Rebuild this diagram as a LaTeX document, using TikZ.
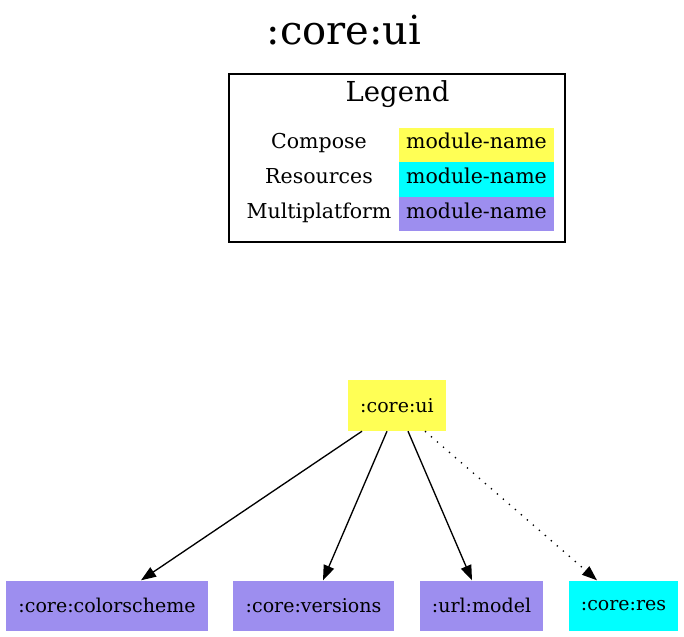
\documentclass[tikz,border=0pt]{standalone}
\usepackage{fontspec}
\setmainfont{DejaVu Serif}
\usetikzlibrary{arrows.meta}
\definecolor{compose}{RGB}{255,255,85}
\definecolor{resources}{RGB}{0,255,255}
\definecolor{mpp}{RGB}{157,142,239}
\begin{document}
\begin{tikzpicture}[x=1pt,y=-1pt,
  modbox/.style={draw=none,inner sep=0pt,font=\fontsize{19}{22}\selectfont},
  legtext/.style={inner sep=0pt,anchor=base,font=\fontsize{20.5}{24}\selectfont},
  dep/.style={line width=1.33pt,-{Triangle[length=15pt,width=11pt]}},
  depdot/.style={dep,dash pattern=on 1.33pt off 6.6pt}]
\useasboundingbox (0,0) rectangle (684,636);
% title
\node[inner sep=0pt,anchor=base,font=\fontsize{40}{46}\selectfont] (title) at (344,45) {:core:ui};
% legend
\draw[line width=1.33pt] (229,74) rectangle (565,242);
\node[inner sep=0pt,anchor=base,font=\fontsize{27.5}{32}\selectfont] (legtitle) at (397.5,102) {Legend};
\fill[compose] (399,128) rectangle (554,162);
\fill[resources] (399,162) rectangle (554,197);
\fill[mpp] (399,197) rectangle (554,231);
\node[legtext] (l1) at (319,149) {Compose};
\node[legtext] (l2) at (319,184) {Resources};
\node[legtext] (l3) at (319,218.5) {Multiplatform};
\node[legtext] (m1) at (476.5,149) {module-name};
\node[legtext] (m2) at (476.5,184) {module-name};
\node[legtext] (m3) at (476.5,218.5) {module-name};
% modules
\node[modbox,fill=compose,minimum width=98pt,minimum height=51pt] (ui) at (397,405.5) {:core:ui};
\node[modbox,fill=mpp,minimum width=202pt,minimum height=50pt] (cs) at (107,605.5) {:core:colorscheme};
\node[modbox,fill=mpp,minimum width=161pt,minimum height=50pt] (ver) at (313.5,605.5) {:core:versions};
\node[modbox,fill=mpp,minimum width=123pt,minimum height=50pt] (url) at (481.5,605.5) {:url:model};
\node[modbox,fill=resources,minimum width=109pt,minimum height=50pt] (res) at (623.5,605.5) {:core:res};
% edges
\draw[dep] ([xshift=-35pt]ui.south) -- ([xshift=34pt]cs.north);
\draw[dep] ([xshift=-10pt]ui.south) -- ([xshift=9.5pt]ver.north);
\draw[dep] ([xshift=11pt]ui.south) -- ([xshift=-9.5pt]url.north);
\draw[depdot] ([xshift=28pt]ui.south) -- ([xshift=-26.5pt]res.north);
\end{tikzpicture}
\end{document}
